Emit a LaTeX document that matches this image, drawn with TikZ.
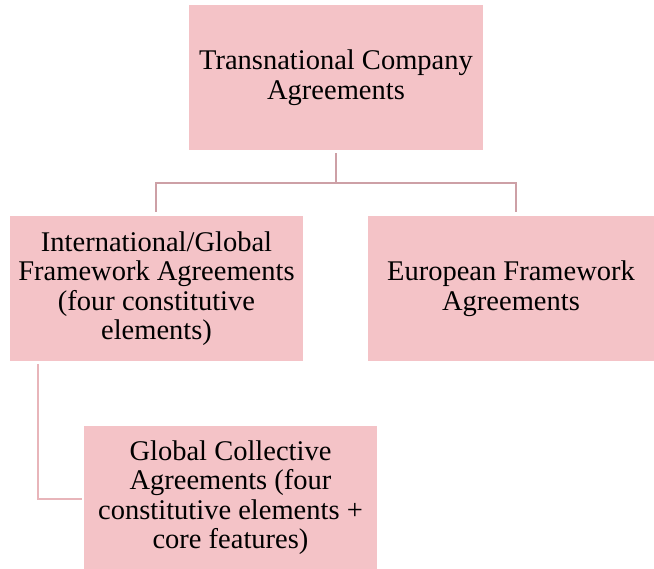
\documentclass[tikz,border=0pt]{standalone}
\usepackage{fontspec}
\setmainfont{Liberation Serif}
\definecolor{boxfill}{HTML}{F4C3C7}
\definecolor{connA}{HTML}{CDA0A6}
\definecolor{connB}{HTML}{E8B5BA}
\tikzset{
  orgbox/.style={rectangle, fill=boxfill, draw=none, align=center, inner sep=0pt,
    font=\fontsize{28.5}{29.5}\selectfont, text=black},
  connline/.style={draw=connA, line width=2pt},
  connline2/.style={draw=connB, line width=2pt},
}
\begin{document}
\begin{tikzpicture}[x=1pt,y=-1pt]
\useasboundingbox (0,0) rectangle (654,569);
\node[orgbox, minimum width=294pt, minimum height=145pt] (top) at (336,77.5) {Transnational Company\\Agreements};
\node[orgbox, minimum width=293pt, minimum height=145pt] (left) at (156.5,288.5) {International/Global\\Framework Agreements\\(four constitutive\\elements)};
\node[orgbox, minimum width=286pt, minimum height=145pt] (right) at (511,288.5) {European Framework\\Agreements};
\node[orgbox, minimum width=293pt, minimum height=143pt] (bottom) at (230.5,497.5) {Global Collective\\Agreements (four\\constitutive elements +\\core features)};
\coordinate (split) at (336,183);
\draw[connline] ([yshift=-3pt]top.south) -- (split);
\draw[connline] (156,212) |- (516,183) -- (516,212);
\draw[connline2] (38,364) |- ([xshift=-2pt]bottom.west |- 0,499);
\end{tikzpicture}
\end{document}
